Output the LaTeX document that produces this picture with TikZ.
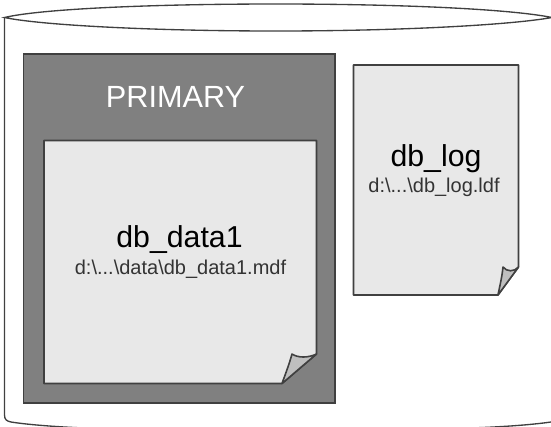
\documentclass[tikz,border=0pt]{standalone}
\usepackage{fontspec}
\setmainfont{Liberation Sans}
\definecolor{pagefill}{gray}{0.91}
\definecolor{foldfill}{gray}{0.75}
\definecolor{groupfill}{gray}{0.5}
\definecolor{edgegray}{gray}{0.25}
\tikzset{
  pagebody/.style={draw=edgegray,line width=1.2pt,fill=pagefill,line join=round},
  pagefold/.style={draw=edgegray,line width=1.2pt,fill=foldfill,line join=round},
  drum/.style={draw=edgegray,line width=1pt},
  lbl/.style={inner sep=0pt,anchor=base},
  title/.style={lbl,font=\fontsize{22.7}{26}\selectfont},
  sub/.style={lbl,text=black!80,font=\fontsize{15}{18}\selectfont}
}
\begin{document}
\begin{tikzpicture}[x=0.75pt,y=-0.75pt]
\useasboundingbox (0,0) rectangle (551,426);
\fill[white] (0,0) rectangle (551,426);
% cylinder
\draw[drum] (4.5,17) -- (4.5,415) .. controls (4.5,420) and (7,421) .. (11,422) .. controls (30,425) and (60,427) .. (85,428)
  (470,428) .. controls (500,427) and (530,425) .. (551,422);
\draw[drum,fill=white] (4.5,17.5) .. controls (40,9) and (150,4) .. (276,4) .. controls (400,4) and (510,9) .. (552,17.5) .. controls (510,25) and (400,31) .. (276,31) .. controls (150,31) and (40,25) .. (4.5,17.5) -- cycle;
% PRIMARY group
\draw[draw=edgegray,line width=1.2pt,fill=groupfill] (23.5,54) rectangle (335,403);
\node[lbl,text=white,font=\fontsize{23}{27}\selectfont] (prim) at (175.5,107) {PRIMARY};
% data page
\path[pagebody] (44,140.5) -- (316.5,140.5) -- (316.5,354) -- (282,383.5) -- (44,383.5) -- cycle;
\path[pagefold] (282,383.5) .. controls (285,375) and (289,365) .. (292,354) .. controls (298,358) and (308,358) .. (316.5,354) -- cycle;
\node[title] (d1) at (179.5,247.5) {db\_data1};
\node[sub] (d1p) at (180.5,274) {d:\textbackslash...\textbackslash data\textbackslash db\_data1.mdf};
% log page
\path[pagebody] (353.5,65) -- (518.5,65) -- (518.5,267) -- (498,295) -- (353.5,295) -- cycle;
\path[pagefold] (498,295) .. controls (500,285) and (502,277) .. (503,267) .. controls (507,272) and (514,272) .. (518.5,267) -- cycle;
\node[title] (l1) at (436,166.5) {db\_log};
\node[sub] (l1p) at (434,192) {d:\textbackslash...\textbackslash db\_log.ldf};
\end{tikzpicture}
\end{document}
